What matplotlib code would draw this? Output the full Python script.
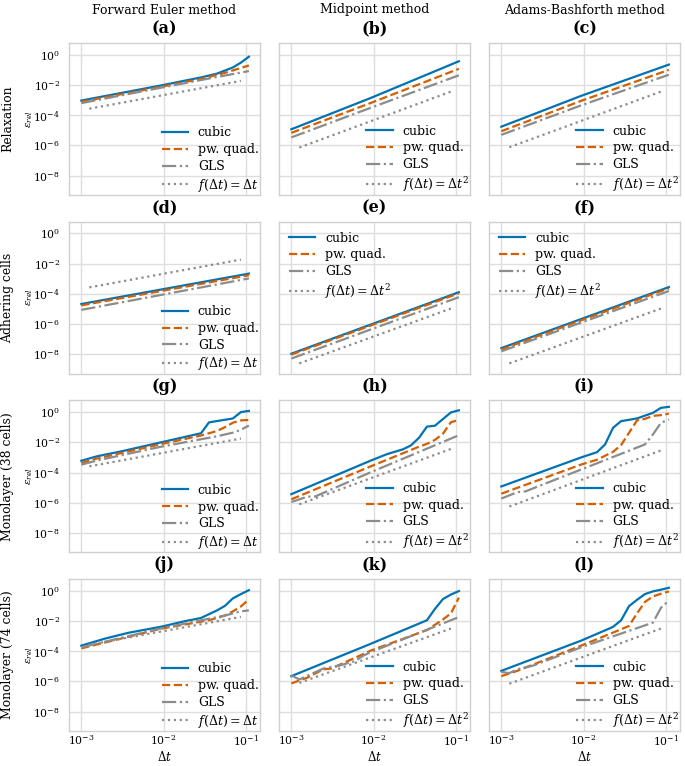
import matplotlib
matplotlib.use("Agg")
import matplotlib.pyplot as plt
from matplotlib.ticker import FixedLocator, NullLocator

# time step grid (dt = 1e-3 * 1.25**k, k = 0..21)
DT = [0.001, 0.00125, 0.0015625, 0.001953, 0.002441, 0.003052, 0.003815,
      0.004768, 0.00596, 0.00745, 0.009313, 0.011642, 0.014552, 0.01819,
      0.022737, 0.028422, 0.035527, 0.044409, 0.055511, 0.069389, 0.086736,
      0.10842]

METHODS = ["Forward Euler method", "Midpoint method", "Adams-Bashforth method"]
PROBLEMS = ["Relaxation", "Adhering cells", "Monolayer (38 cells)", "Monolayer (74 cells)"]
PANEL_LETTERS = ["a", "b", "c", "d", "e", "f", "g", "h", "i", "j", "k", "l"]
SERIES = ["cubic", "pw. quad.", "GLS", "ref"]

# breakpoints per curve: (index into DT, log10 of relative error)
panel_a = {
    "cubic": [(0, -3.03), (10, -2.03), (15, -1.5), (17, -1.25), (19, -0.84), (20, -0.52), (21, -0.13)],
    "pw. quad.": [(0, -3.11), (10, -2.12), (15, -1.6), (18, -1.2), (21, -0.71)],
    "GLS": [(0, -3.2), (10, -2.18), (16, -1.57), (21, -1.08)],
    "ref": [(1, -3.57), (20, -1.73)],
}
panel_b = {
    "cubic": [(0, -4.93), (10, -2.85), (21, -0.43)],
    "pw. quad.": [(0, -5.17), (10, -3.18), (21, -0.93)],
    "GLS": [(0, -5.47), (10, -3.5), (21, -1.36)],
    "ref": [(1, -6.14), (20, -2.44)],
}
panel_c = {
    "cubic": [(0, -4.76), (10, -2.72), (21, -0.65)],
    "pw. quad.": [(0, -5.06), (10, -3.05), (21, -1.0)],
    "GLS": [(0, -5.3), (10, -3.35), (21, -1.32)],
    "ref": [(1, -6.12), (20, -2.44)],
}
panel_d = {
    "cubic": [(0, -4.67), (21, -2.66)],
    "pw. quad.": [(0, -4.76), (21, -2.77)],
    "GLS": [(0, -5.06), (21, -2.98)],
    "ref": [(1, -3.57), (20, -1.73)],
}
panel_e = {
    "cubic": [(0, -7.96), (21, -3.89)],
    "pw. quad.": [(0, -8.02), (21, -3.96)],
    "GLS": [(0, -8.28), (21, -4.22)],
    "ref": [(1, -8.6), (20, -4.97)],
}
panel_f = {
    "cubic": [(0, -7.59), (21, -3.55)],
    "pw. quad.": [(0, -7.68), (21, -3.63)],
    "GLS": [(0, -7.8), (21, -3.81)],
    "ref": [(1, -8.6), (20, -4.97)],
}
panel_g = {
    "cubic": [(0, -3.22), (2, -2.92), (5, -2.6), (10, -2.0), (15, -1.4), (16, -0.68), (19, -0.42), (20, 0.0), (21, 0.08)],
    "pw. quad.": [(0, -3.37), (2, -3.07), (10, -2.12), (15, -1.55), (17, -1.25), (18, -1.0), (19, -0.7), (20, -0.55), (21, -0.52)],
    "GLS": [(0, -3.48), (2, -3.2), (10, -2.29), (17, -1.6), (19, -1.36), (20, -1.17), (21, -0.89)],
    "ref": [(1, -3.59), (20, -1.75)],
}
panel_h = {
    "cubic": [(0, -5.43), (10, -3.2), (12, -2.78), (14, -2.46), (15, -2.2), (16, -1.7), (17, -0.96), (18, -0.9), (19, -0.46), (20, -0.02), (21, 0.12)],
    "pw. quad.": [(0, -5.77), (10, -3.58), (16, -2.29), (17, -2.1), (18, -1.84), (19, -1.43), (20, -0.67), (21, -0.52)],
    "GLS": [(0, -5.95), (2, -5.6), (3, -5.58), (10, -3.97), (21, -1.53)],
    "ref": [(1, -6.1), (20, -2.44)],
}
panel_i = {
    "cubic": [(0, -4.92), (10, -3.0), (12, -2.65), (13, -2.14), (14, -1.04), (15, -0.6), (17, -0.42), (19, -0.05), (20, 0.28), (21, 0.35)],
    "pw. quad.": [(0, -5.4), (10, -3.47), (12, -3.15), (14, -2.63), (15, -2.19), (16, -1.37), (17, -0.55), (18, -0.45), (19, -0.25), (20, -0.2), (21, -0.1)],
    "GLS": [(0, -5.72), (2, -5.3), (3, -5.25), (10, -3.8), (18, -2.14), (19, -1.48), (20, -0.71), (21, -0.49)],
    "ref": [(1, -6.25), (20, -2.54)],
}
panel_j = {
    "cubic": [(0, -3.63), (3, -3.16), (6, -2.77), (10, -2.38), (13, -2.01), (15, -1.8), (16, -1.55), (17, -1.3), (18, -1.0), (19, -0.5), (20, -0.22), (21, 0.04)],
    "pw. quad.": [(0, -3.81), (10, -2.51), (16, -1.95), (17, -1.8), (18, -1.64), (19, -1.36), (20, -1.04), (21, -0.56)],
    "GLS": [(0, -3.74), (10, -2.49), (18, -1.64), (19, -1.5), (20, -1.36), (21, -1.3)],
    "ref": [(1, -3.57), (20, -1.73)],
}
panel_k = {
    "cubic": [(0, -5.65), (10, -3.5), (17, -1.95), (18, -1.2), (19, -0.55), (20, -0.25), (21, -0.02)],
    "pw. quad.": [(0, -6.13), (2, -5.75), (4, -5.2), (5, -5.15), (10, -3.95), (17, -2.6), (18, -2.25), (19, -1.9), (20, -1.5), (21, -0.45)],
    "GLS": [(0, -5.6), (1, -5.87), (4, -5.15), (6, -4.95), (8, -4.65), (9, -4.3), (10, -4.05), (21, -1.74)],
    "ref": [(1, -6.1), (20, -2.5)],
}
panel_l = {
    "cubic": [(0, -5.3), (10, -3.3), (13, -2.62), (14, -2.39), (15, -1.96), (16, -1.02), (17, -0.6), (18, -0.22), (19, -0.04), (20, 0.07), (21, 0.2)],
    "pw. quad.": [(0, -5.65), (2, -5.3), (10, -3.63), (15, -2.55), (16, -2.33), (17, -1.5), (18, -0.74), (19, -0.37), (20, -0.2), (21, -0.04)],
    "GLS": [(0, -5.37), (1, -5.45), (2, -5.2), (4, -4.95), (10, -3.74), (19, -2.11), (20, -1.13), (21, -0.65)],
    "ref": [(1, -6.15), (20, -2.5)],
}
PANELS = [panel_a, panel_b, panel_c, panel_d, panel_e, panel_f,
          panel_g, panel_h, panel_i, panel_j, panel_k, panel_l]

STYLES = {
    "cubic": dict(color="#0173B2", ls="-", lw=1.6),
    "pw. quad.": dict(color="#D55E00", ls="--", lw=1.6),
    "GLS": dict(color="#8c8c8c", ls="-.", lw=1.6),
    "ref": dict(color="#8c8c8c", ls=":", lw=1.6),
}

plt.rcParams.update({
    "font.family": ["DejaVu Serif"],
    "mathtext.fontset": "dejavuserif",
    "axes.edgecolor": "#d0d0d0",
    "axes.linewidth": 1.0,
    "grid.color": "#dedede",
    "grid.linewidth": 1.0,
    "xtick.major.size": 0,
    "ytick.major.size": 0,
    "xtick.major.pad": 1.5,
    "ytick.major.pad": 6.5,
    "xtick.labelsize": 7.8,
    "ytick.labelsize": 7.8,
})

fig, axes = plt.subplots(4, 3, figsize=(6.85, 7.66), dpi=100, sharex=True, sharey=True)
fig.subplots_adjust(left=0.1007, right=0.9927, bottom=0.0457, top=0.9439,
                    wspace=0.0995, hspace=0.1754)

for i, ax in enumerate(axes.flat):
    row, col = divmod(i, 3)
    data = PANELS[i]
    for name in SERIES:
        pts = data[name]
        xs = [DT[k] for k, _ in pts]
        ys = [10 ** e for _, e in pts]
        if name == "ref":
            label = r"$f(\Delta t) = \Delta t$" if col == 0 else r"$f(\Delta t) = \Delta t^2$"
        else:
            label = name
        ax.plot(xs, ys, label=label, **STYLES[name])
    ax.set_xscale("log")
    ax.set_yscale("log")
    ax.set_xlim(10 ** -3.15, 10 ** -0.83)
    ax.set_ylim(10 ** -9.28, 10 ** 0.78)
    ax.xaxis.set_major_locator(FixedLocator([1e-3, 1e-2, 1e-1]))
    ax.yaxis.set_major_locator(FixedLocator([1e0, 1e-2, 1e-4, 1e-6, 1e-8]))
    ax.xaxis.set_minor_locator(NullLocator())
    ax.yaxis.set_minor_locator(NullLocator())
    ax.grid(True, which="major")
    ax.set_axisbelow(True)
    ax.set_title(f"({PANEL_LETTERS[i]})", fontsize=11.5, fontweight="bold", pad=7)
    if row == 1 and col > 0:
        ax.legend(loc="upper left", fontsize=9, frameon=False, handlelength=2.1,
                  labelspacing=0.3, borderaxespad=0.4)
    else:
        ax.legend(loc="lower right", fontsize=9, frameon=False, handlelength=2.1,
                  labelspacing=0.3, borderaxespad=0.0, borderpad=0.1)
    if col == 0:
        ax.set_ylabel(r"$\varepsilon_{rel}$", fontsize=7.5, labelpad=-1)
    if row == 3:
        ax.set_xlabel(r"$\Delta t$", fontsize=8.5, labelpad=2)

for col, name in enumerate(METHODS):
    bb = axes[0, col].get_position()
    fig.text((bb.x0 + bb.x1) / 2, 1 - 10 / 766, name, ha="center", va="center", fontsize=9)

for row, name in enumerate(PROBLEMS):
    bb = axes[row, 0].get_position()
    fig.text(8 / 685, (bb.y0 + bb.y1) / 2, name, rotation=90, ha="center", va="center", fontsize=8.9)

fig.savefig("out.png", dpi=100)
